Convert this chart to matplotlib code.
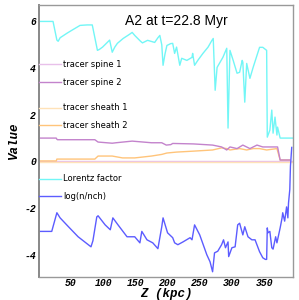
import matplotlib
matplotlib.use("Agg")
import matplotlib.pyplot as plt
from matplotlib.lines import Line2D

# ---------------- data ----------------
lorentz_z = [0, 22, 28, 30, 33, 44, 53, 64, 75, 83, 91, 94, 99, 110, 114, 118, 122, 131, 141, 145,
             149, 158, 161, 169, 180, 185, 188, 191, 193, 196, 199, 205, 208, 211, 214, 219, 222,
             230, 238, 239, 242, 247, 255, 263, 269, 271, 274, 277, 286, 292, 294, 297, 302, 308,
             312, 316, 317, 320, 323, 328, 333, 343, 348, 354, 355, 359, 362, 364, 367, 370, 371,
             375, 395]
lorentz_v = [6.0, 6.0, 5.2, 5.15, 5.3, 5.5, 5.65, 5.83, 5.85, 5.85, 4.76, 4.8, 4.9, 5.2, 4.68, 4.9,
             5.06, 5.27, 5.45, 5.53, 5.4, 5.15, 5.08, 5.19, 5.1, 5.3, 5.4, 5.0, 4.12, 4.6, 4.97, 5.05,
             5.06, 4.63, 4.9, 4.12, 4.42, 4.33, 4.46, 4.63, 4.12, 4.33, 4.63, 4.9, 5.19, 5.27, 3.05,
             4.03, 4.46, 4.85, 1.43, 4.76, 4.33, 3.78, 3.82, 4.33, 4.25, 2.54, 4.2, 3.56, 4.03, 4.89,
             4.89, 4.76, 1.04, 1.34, 2.2, 1.21, 1.9, 1.13, 1.47, 1.0, 1.0]

logn_z = [0, 20, 28, 33, 46, 61, 81, 84, 90, 92, 103, 111, 115, 123, 137, 149, 157, 160, 168, 177,
          185, 191, 193, 200, 208, 211, 216, 224, 235, 238, 242, 250, 261, 266, 270, 273, 278, 284,
          287, 290, 294, 295, 300, 305, 309, 312, 317, 320, 325, 331, 336, 343, 348, 352, 354, 355,
          356, 359, 362, 364, 368, 370, 375, 378, 379, 382, 385, 387, 388, 390, 391, 393]
logn_v = [-3.0, -3.0, -2.2, -2.42, -2.8, -3.23, -3.66, -3.4, -2.38, -2.33, -2.72, -2.93, -2.42,
          -2.72, -3.23, -3.23, -3.49, -3.0, -3.36, -3.49, -3.74, -2.8, -2.42, -3.06, -3.27, -3.49,
          -3.57, -3.45, -3.27, -3.36, -2.72, -3.15, -4.0, -4.3, -4.73, -3.92, -3.85, -3.57, -3.36,
          -3.7, -3.45, -4.08, -3.7, -3.66, -2.72, -2.65, -3.15, -2.8, -3.23, -3.36, -3.36, -3.87,
          -4.13, -4.2, -4.2, -2.85, -3.06, -3.0, -3.7, -3.76, -3.23, -3.49, -2.85, -2.42, -2.2,
          -2.56, -1.95, -2.42, -1.78, -1.2, -0.2, 0.6]

spine2_z = [0, 27, 28, 29, 87, 92, 114, 120, 145, 175, 191, 198, 205, 208, 240, 270, 284, 292, 297,
            308, 317, 328, 339, 348, 371, 375, 390]
spine2_v = [1.0, 1.0, 0.95, 0.93, 0.93, 0.83, 0.78, 0.8, 0.87, 0.8, 0.8, 0.7, 0.72, 0.77, 0.75,
            0.7, 0.62, 0.49, 0.62, 0.55, 0.7, 0.55, 0.7, 0.62, 0.62, 0.06, 0.06]

sheath2_z = [0, 27, 28, 87, 92, 114, 130, 149, 175, 191, 199, 214, 240, 270, 284, 292, 297, 312,
             323, 333, 343, 354, 370, 375, 390]
sheath2_v = [0.02, 0.02, 0.1, 0.1, 0.23, 0.23, 0.15, 0.15, 0.23, 0.3, 0.36, 0.4, 0.44, 0.49, 0.58,
             0.55, 0.49, 0.55, 0.49, 0.55, 0.55, 0.49, 0.55, 0.06, 0.06]

spine1_z = [0, 395]
spine1_v = [0.0, 0.0]
sheath1_z = [0, 395]
sheath1_v = [-0.02, -0.02]

xticks = [50, 100, 150, 200, 250, 300, 350]
yticks = [-4, -2, 0, 2, 4, 6]

# ---------------- style ----------------
c_spine1 = "#e8c0ea"
c_spine2 = "#c383cc"
c_sheath1 = "#ffe2b8"
c_sheath2 = "#ffc47a"
c_lor = "#72f6f6"
c_log = "#5c5cff"

fig = plt.figure(figsize=(2.99, 3.0), dpi=100)
ax = fig.add_axes([0.13, 0.077, 0.85, 0.906])

lw = 1.0
ax.plot(spine1_z, spine1_v, color=c_spine1, lw=lw)
ax.plot(sheath1_z, sheath1_v, color=c_sheath1, lw=lw)
ax.plot(sheath2_z, sheath2_v, color=c_sheath2, lw=lw)
ax.plot(spine2_z, spine2_v, color=c_spine2, lw=lw)
ax.plot(lorentz_z, lorentz_v, color=c_lor, lw=lw)
ax.plot(logn_z, logn_v, color=c_log, lw=lw)

ax.set_xlim(0, 395)
ax.set_ylim(-4.95, 6.7)

tickfont = dict(family="Liberation Mono", weight="bold", style="italic", size=7)
ax.set_xticks(xticks)
ax.set_yticks(yticks)
ax.set_xticklabels([str(t) for t in xticks], fontdict=tickfont)
ax.set_yticklabels([str(t) for t in yticks], fontdict=tickfont)
ax.tick_params(length=0, pad=2)
ax.tick_params(axis="x", pad=0.5)

for s in ax.spines.values():
    s.set_color("#999999")
    s.set_linewidth(1.0)
ax.spines["left"].set_color("#888888")
ax.spines["left"].set_linewidth(1.4)

labfont = dict(family="Liberation Mono", weight="bold", style="italic", size=9)
fig.text(0.555, 0.02, "Z (kpc)", ha="center", va="center", **labfont)
ax.set_ylabel("Value", fontdict=labfont, labelpad=3)

ax.text(0.54, 0.94, "A2 at t=22.8 Myr", transform=ax.transAxes, ha="center", va="center",
        family="Liberation Sans", fontsize=10)

legfont = dict(family="DejaVu Sans", size=6)
def mk(c):
    return Line2D([0], [0], color=c, lw=lw)

common = dict(frameon=False, handlelength=2.6, handletextpad=0.3, borderaxespad=0.0,
              labelspacing=1.0, prop=legfont, borderpad=0.0)
leg1 = ax.legend([mk(c_spine1), mk(c_spine2)], ["tracer spine 1", "tracer spine 2"],
                 loc="upper left", bbox_to_anchor=(0.0, 0.797), **common)
ax.add_artist(leg1)
leg2 = ax.legend([mk(c_sheath1), mk(c_sheath2)], ["tracer sheath 1", "tracer sheath 2"],
                 loc="upper left", bbox_to_anchor=(0.0, 0.638), **common)
ax.add_artist(leg2)
leg3 = ax.legend([mk(c_lor), mk(c_log)], ["Lorentz factor", "log(n/nch)"],
                 loc="upper left", bbox_to_anchor=(0.0, 0.377), **common)

fig.savefig("out.png", dpi=100)
